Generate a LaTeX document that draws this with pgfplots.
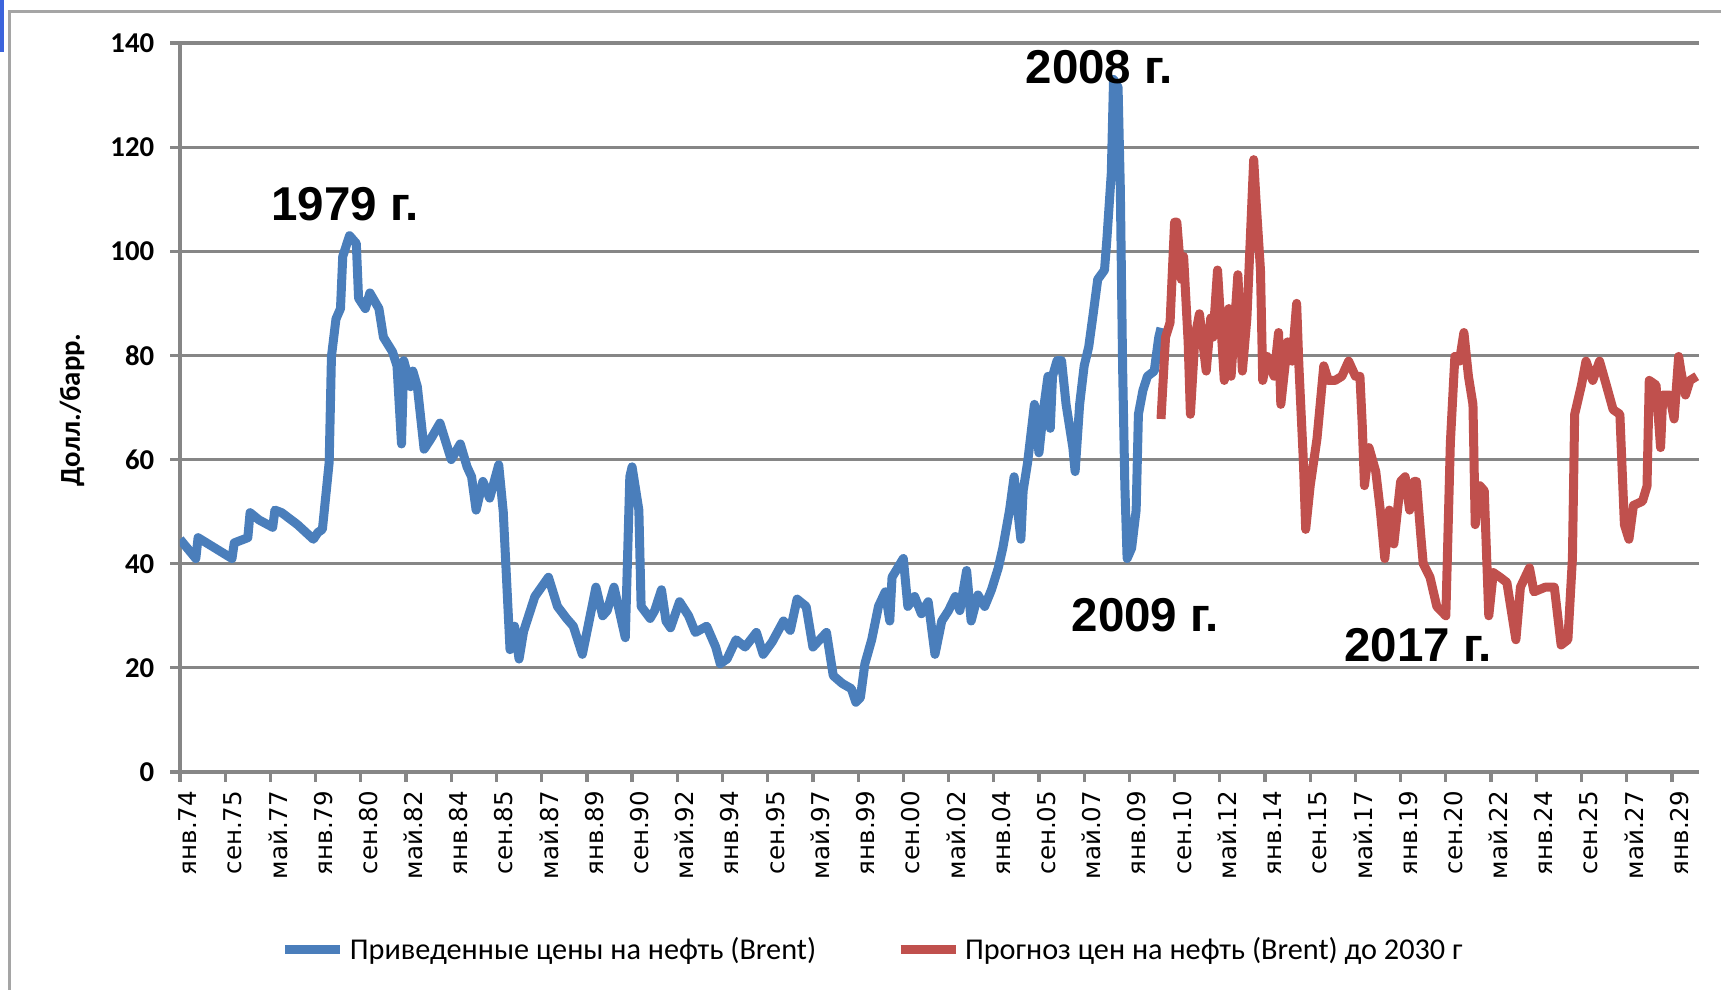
\documentclass[border=0pt]{standalone}
\usepackage{pgfplots}
\pgfplotsset{compat=1.18}
\usepackage{fontspec}
\setmainfont{Liberation Sans}
\newfontfamily\carlito{Carlito}
\newfontfamily\dejavu{DejaVu Sans}
\definecolor{bl}{RGB}{74,126,187}
\definecolor{rd}{RGB}{192,80,77}
\definecolor{gr}{RGB}{134,134,134}
\definecolor{fr}{RGB}{165,165,165}
\definecolor{fb}{RGB}{60,100,220}
\begin{document}
\begin{tikzpicture}
\useasboundingbox (0,0) rectangle (688.4pt,397.2pt);
\fill[fb] (0,397.2pt) rectangle (1.6pt,376.4pt);
\draw[fr, line width=1.2pt] (3.6pt,1.2pt) -- (3.6pt,392.4pt) -- (688.4pt,392.4pt);
\begin{axis}[
  at={(72pt,88.4pt)}, anchor=south west,
  scale only axis, width=607.6pt, height=291.6pt,
  xmin=0, xmax=672, ymin=0, ymax=140,
  axis x line*=bottom, axis y line*=left,
  axis line style={gr, line width=1.3pt, -},
  ytick={0,20,...,140},
  xtick={0,20,...,660},
  xticklabels={янв.74,сен.75,май.77,янв.79,сен.80,май.82,янв.84,сен.85,май.87,янв.89,сен.90,май.92,янв.94,сен.95,май.97,янв.99,сен.00,май.02,янв.04,сен.05,май.07,янв.09,сен.10,май.12,янв.14,сен.15,май.17,янв.19,сен.20,май.22,янв.24,сен.25,май.27,янв.29},
  /pgf/number format/assume math mode=true,
  ymajorgrids, major grid style={gr, line width=1.3pt},
  tick align=outside, major tick length=4pt,
  tick style={gr, line width=1.3pt},
  yticklabel style={font=\carlito\bfseries\fontsize{11.5}{13}\selectfont, anchor=east, xshift=-2.8pt},
  xticklabel style={font=\dejavu\fontsize{9.8}{11}\selectfont, rotate=90, anchor=east, yshift=-3pt},
  xticklabel shift=0pt,
  ylabel={Долл./барр.},
  ylabel style={font=\carlito\bfseries\fontsize{11.5}{13}\selectfont, at={(axis description cs:-0.0711,0.4966)}, anchor=center},
  legend columns=2,
  legend style={at={(axis description cs:0.457,-0.244)}, anchor=center, draw=none,
    font=\carlito\fontsize{12.1}{14}\selectfont,
    /tikz/every even column/.append style={column sep=30pt}},
  legend image code/.code={\draw[#1] (0pt,0pt) -- (22pt,0pt);},
  every axis plot/.append style={line width=3.6pt, line join=round},
]
\addplot[bl] table {
0 44.7
7 41
8 45
23 41
24 44
30 45
31 49.8
35 48.4
41 47
42 50.3
45 49.8
52 47.5
59 44.7
61 46
63 46.6
66 59.5
67 79.8
69 87
71 89
72 99
75 103
78 101.5
79 91
82 89
84 92
88 89
90 83.5
94 80.7
96 78
98 63
99 79
102 74
103 77
105 74
108 62
111 64
115 67
120 60
124 63
127 58.6
129 56.7
131 50.3
134 55.8
137 52.6
141 59
143 50
146 23.5
148 28
150 21.7
152 27
157 33.7
163 37.4
167 31.8
171 29.5
174 28
178 22.6
181 29
184 35.5
187 30
189 31
192 35.5
197 25.8
199 56.7
200 58.6
203 50.3
204 31.8
208 29.5
210 31
213 35
215 29
217 27.7
221 32.7
225 30
228 26.8
233 28
237 24
239 20.8
242 21.7
246 25.4
250 24
255 26.8
258 22.6
262 25
267 29
270 27.2
273 33.2
277 31.8
280 24
286 26.8
289 18.5
293 17
297 16
299 13.4
301 14.3
303 20.8
306 25.4
309 31.8
312 34.6
314 29
315 37.4
320 41
322 31.8
325 33.7
328 30.4
331 32.7
334 22.6
337 29
340 31
343 33.7
345 31
348 38.7
350 29
353 34
356 31.8
359 35
362 39.2
364 43
367 50.3
369 56.7
372 44.7
373 54
375 59.5
378 70.6
380 61.3
382 69.6
384 76
385 66
386 76
388 79
390 79
392 70.6
395 62.3
396 57.7
398 70.6
400 78
402 81.6
404 88
406 94.6
409 96.4
410 102
412 115
413 133
415 131.5
416 112
417 78
418 55
419 41
421 43
423 50.3
424 68.7
426 73.3
428 76
431 77
433 83.5
434 85.3
};
\addlegendentry{Приведенные цены на нефть (Brent)}
\addplot[rd] table {
434 67.8
436 83.5
438 86.3
440 105.6
441 105.6
443 94.6
444 99
446 82.6
447 68.7
449 83.5
451 88
454 77
456 87.2
457 83.5
459 96.4
462 75.2
464 89
465 76
468 95.5
470 77
472 87.2
475 117.6
476 110
478 96.4
479 75.2
481 79.8
484 76
486 84.4
487 70.6
490 82.6
492 78.9
494 90
495 78
497 59.5
498 46.6
500 55
503 64
506 78
508 75.2
511 75.2
514 76
517 78.9
520 76
522 76
523 66.9
524 55
526 62.3
529 57.7
531 50.3
533 41
535 50.3
537 43.8
540 55.8
542 56.7
544 50.3
546 55.8
547 55.8
549 45
550 40
553 37.4
556 31.8
560 30
562 63.2
564 79.8
566 78.9
568 84.4
570 76
572 70.6
573 47.5
575 55
577 54
579 30
581 38.3
584 37.4
587 36.4
591 25.4
593 35.5
597 39.2
599 34.6
604 35.5
608 35.5
611 24.4
614 25.4
616 41
617 68.7
620 74.3
622 78.9
625 75.2
628 78.9
631 74.3
634 69.6
637 68.7
639 47.5
641 44.7
643 51.2
647 52
649 54.9
650 75.2
653 74.3
655 62.3
656 72.4
659 72.4
661 67.8
663 79.8
664 77
666 72.4
668 75.2
671 76
};
\addlegendentry{Прогноз цен на нефть (Brent) до 2030 г}
\node[font=\bfseries\fontsize{19}{22}\selectfont] at (axis cs:73,109) {1979 г.};
\node[font=\bfseries\fontsize{19}{22}\selectfont] at (axis cs:406.7,135.3) {2008 г.};
\node[font=\bfseries\fontsize{19}{22}\selectfont] at (axis cs:427,30.2) {2009 г.};
\node[font=\bfseries\fontsize{19}{22}\selectfont] at (axis cs:547.6,24.3) {2017 г.};
\end{axis}
\end{tikzpicture}
\end{document}
